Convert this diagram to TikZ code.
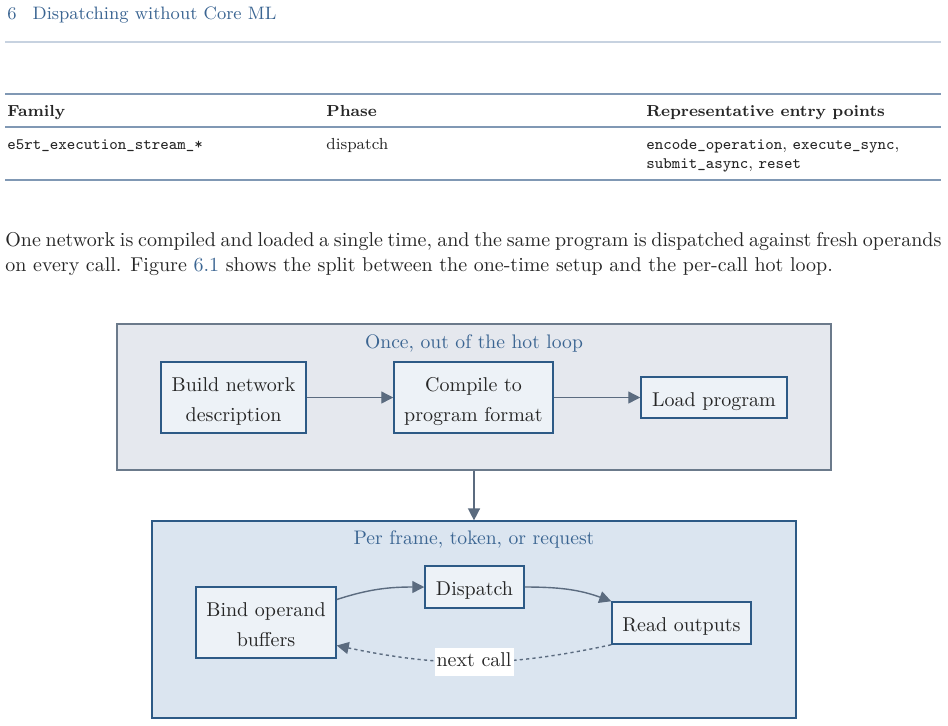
\documentclass[tikz,border=0pt]{standalone}
\usepackage{amsmath,amssymb}
\usepackage{xcolor}
\usepackage{tikz}
\usetikzlibrary{arrows.meta,positioning,calc}

\definecolor{headblue}{HTML}{3B6592}
\definecolor{inkdark}{HTML}{262626}
\definecolor{rulelight}{HTML}{C7D2E0}
\definecolor{rulemid}{HTML}{8098B4}
\definecolor{oncefill}{HTML}{E5E8EE}
\definecolor{onceline}{HTML}{6B7A8B}
\definecolor{callfill}{HTML}{DBE5F0}
\definecolor{callline}{HTML}{2D5A86}
\definecolor{stepfill}{HTML}{EDF2F7}
\definecolor{stepline}{HTML}{2D5A86}
\definecolor{arrowgray}{HTML}{5B6B7F}

\begin{document}
\begin{tikzpicture}[
x=0.5pt,
y=-0.5pt,
every node/.style={font=\fontsize{10}{15}\selectfont,text=inkdark,inner sep=0pt},
pagetext/.style={anchor=base west},
tabhead/.style={anchor=base west,font=\fontsize{8}{9.5}\selectfont\bfseries},
tabcell/.style={anchor=base west,font=\fontsize{8}{9.5}\selectfont,align=left},
grouponce/.style={rectangle,draw=onceline,fill=oncefill,line width=0.6pt,minimum width=357pt,minimum height=73pt},
groupcall/.style={rectangle,draw=callline,fill=callfill,line width=0.6pt,minimum width=322pt,minimum height=98.5pt},
grouptitle/.style={anchor=base,text=headblue,font=\fontsize{9.8}{15}\selectfont},
flowstep/.style={rectangle,draw=stepline,fill=stepfill,line width=0.75pt,align=center,text depth=0pt},
rowsingle/.style={text height=8.75pt},
rowdouble/.style={text height=23.75pt},
flowarr/.style={-{Triangle[length=6pt,width=6pt]},draw=arrowgray,line width=0.7pt},
flowback/.style={-{Triangle[length=6pt,width=6pt]},draw=arrowgray,line width=0.7pt,dash pattern=on 1.6pt off 1.6pt},
flowlbl/.style={fill=white,inner xsep=1pt,inner ysep=2.5pt,text height=7pt,text depth=2pt}
]
\useasboundingbox (0,0) rectangle (948,725);

\node[pagetext,text=headblue,font=\fontsize{9}{11}\selectfont] (chap) at (7,19.5) {6\hspace{8pt}Dispatching without Core ML};
\draw[rulelight,line width=0.6pt] (5,42) -- (941,42);

\draw[rulemid,line width=0.9pt] (5,94) -- (941,94);
\node[tabhead] (famhead) at (7,116) {Family};
\node[tabhead] (phasehead) at (326,116) {Phase};
\node[tabhead] (entryhead) at (646,116) {Representative entry points};
\draw[rulemid,line width=0.6pt] (5,127) -- (941,127);
\node[tabcell] (famcell) at (7,149) {\texttt{e5rt\_execution\_stream\_*}};
\node[tabcell] (phasecell) at (326,149) {dispatch};
\node[tabcell] (entrycell) at (646,168) {\texttt{encode\_operation}, \texttt{execute\_sync},\\\texttt{submit\_async}, \texttt{reset}};
\draw[rulemid,line width=0.9pt] (5,180) -- (941,180);

\node[pagetext] (para1) at (5,246) {\makebox[468pt][s]{One network is compiled and loaded a single time, and the same program is dispatched against fresh operands}};
\node[pagetext] (para2) at (5,271) {on every call. Figure \textcolor{headblue}{6.1} shows the split between the one-time setup and the per-call hot loop.};

\node[grouponce] (onceg) at (474,397) {};
\node[grouptitle] (oncetitle) at (474,348) {Once, out of the hot loop};
\node[flowstep,rowdouble,minimum width=72.5pt,minimum height=35.5pt] (build) at (233.5,397.5) {Build network\\description};
\node[flowstep,rowdouble,minimum width=79.5pt,minimum height=35.5pt] (compile) at (473.5,397.5) {Compile to\\program format};
\node[flowstep,rowsingle,minimum width=73pt,minimum height=20.5pt] (load) at (714,397.5) {Load program};

\node[groupcall] (callg) at (474,619.5) {};
\node[grouptitle] (calltitle) at (474,544) {Per frame, token, or request};
\node[flowstep,rowdouble,minimum width=70pt,minimum height=35.5pt] (bind) at (266,622.5) {Bind operand\\buffers};
\node[flowstep,rowsingle,minimum width=49.5pt,minimum height=21pt] (dispatch) at (474.5,587) {Dispatch};
\node[flowstep,rowsingle,minimum width=69.5pt,minimum height=21pt] (read) at (681.5,623) {Read outputs};

\draw[flowarr] (build) -- (compile);
\draw[flowarr] (compile) -- (load);
\draw[flowarr] (onceg) -- (callg);
\draw[flowarr] (bind.18) to[out=18,in=180] (dispatch.west);
\draw[flowarr] (dispatch.east) to[out=0,in=160] (read.north west);
\draw[flowback] (read.south west) to[bend left=12] node[flowlbl]{next call} (bind.-18);
\end{tikzpicture}
\end{document}
